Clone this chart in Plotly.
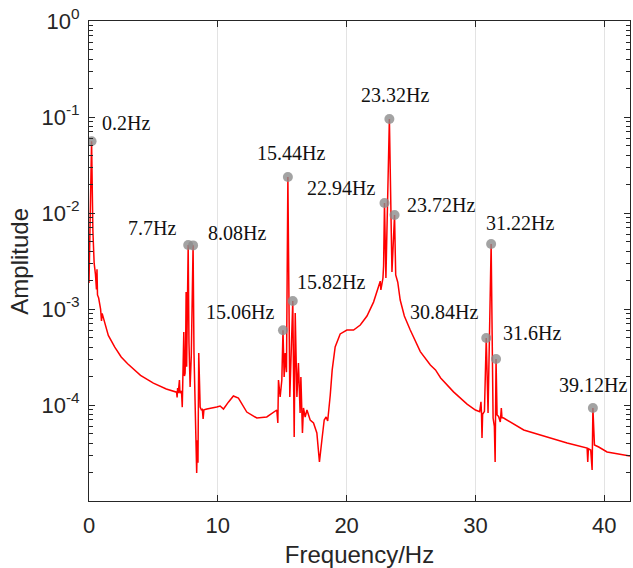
import numpy as np
import plotly.graph_objects as go

# ---- spectrum data ----
freq = [0.0, 0.2, 0.3, 0.4, 0.5, 0.58, 0.62, 0.66, 0.75, 0.9, 0.97, 1.02, 1.5, 2.0, 2.5, 3.0, 4.0, 5.0, 6.0,
        6.8, 6.84, 6.88, 6.93, 7.02, 7.06, 7.18, 7.24, 7.29, 7.36, 7.41, 7.46, 7.50, 7.54, 7.58, 7.64, 7.70,
        7.76, 7.85, 7.94, 8.08, 8.15, 8.22, 8.30, 8.36, 8.41, 8.46, 8.52, 8.57, 8.63, 8.72, 8.80, 8.86, 8.92,
        9.15, 9.6, 9.92, 10.18, 10.44, 10.82, 11.21, 11.6, 12.25, 13.03, 13.8, 14.58,
        14.66, 14.71, 14.84, 14.97, 15.06, 15.15, 15.23, 15.33, 15.44, 15.59, 15.72, 15.82, 15.93, 16.01,
        16.14, 16.26, 16.39, 16.45, 16.57, 16.65, 16.78, 16.92, 17.17, 17.43, 17.69, 17.89, 18.08, 18.26,
        18.41, 18.53, 18.73, 18.88, 19.11, 19.5, 20.02, 20.54, 21.06, 21.58, 22.09, 22.48, 22.61, 22.66,
        22.82, 22.87, 22.94, 23.05, 23.32, 23.52, 23.72, 23.81, 23.9, 23.97, 24.16, 24.32, 24.48, 24.94,
        25.72, 26.5, 26.9, 27.3, 28.3, 29.35, 30.0, 30.33, 30.43, 30.47, 30.51, 30.56, 30.7, 30.84, 30.98,
        31.22, 31.37, 31.47, 31.53, 31.6, 31.68, 31.8, 31.93, 32.01, 32.06, 32.19, 33.75, 35.04, 37.12,
        38.67, 38.72, 38.77, 38.95, 39.06, 39.12, 39.24, 39.4, 39.57, 40.22, 42.0]
amp = [1.87e-3, 5.6e-2, 6.6e-3, 3.0e-3, 2.3e-3, 1.6e-3, 2.6e-3, 1.4e-3, 1.3e-3, 1.0e-3, 7.5e-4, 9.0e-4,
       5.3e-4, 4.0e-4, 3.16e-4, 2.69e-4, 2.04e-4, 1.69e-4, 1.47e-4,
       1.36e-4, 1.2e-4, 1.5e-4, 1.33e-4, 1.82e-4, 1.33e-4, 1.4e-4, 9.5e-5, 1.6e-4, 5.75e-4, 2.0e-4, 2.15e-4,
       3.8e-4, 1.5e-3, 2.5e-4, 1.7e-3, 4.64e-3, 4.5e-4, 1.54e-4, 3.2e-4, 4.6e-3, 3.5e-4, 1.6e-4, 6.0e-5,
       1.96e-5, 4.3e-5, 2.5e-5, 3.48e-4, 1.3e-4, 9.5e-5, 8.9e-5, 9.0e-5, 7.15e-5, 8.9e-5,
       9.08e-5, 9.3e-5, 9.53e-5, 9.77e-5, 9.08e-5, 1.07e-4, 1.24e-4, 1.18e-4, 8.45e-5, 7.32e-5, 7.5e-5, 8.87e-5,
       6.49e-5, 1.82e-4, 1.21e-4, 1.82e-4, 6.0e-4, 1.96e-4, 3.48e-4, 2.2e-4, 2.37e-2, 1.21e-4, 4.5e-4, 1.21e-3,
       4.64e-5, 9.09e-4, 1.21e-4, 2.74e-4, 8.25e-5, 1.96e-4, 5.11e-5, 9.31e-5, 7.5e-5, 8.87e-5, 6.98e-5,
       6.49e-5, 5.11e-5, 2.55e-5, 4.32e-5, 6.98e-5, 7.5e-5, 6.81e-5, 1.27e-4, 2.32e-4, 4.02e-4, 5.5e-4,
       6.04e-4, 6.04e-4, 6.81e-4, 8.45e-4, 1.18e-3, 1.7e-3, 1.95e-3, 1.58e-3, 2.1e-3, 2.8e-3, 1.27e-2,
       2.1e-3, 9.53e-2, 2.43e-3, 9.53e-3, 2.26e-3, 2.1e-3, 1.9e-3, 1.24e-3, 1.0e-3, 8.45e-4, 6.04e-4,
       3.6e-4, 2.61e-4, 2.32e-4, 1.91e-4, 1.37e-4, 1.02e-4, 8.87e-5, 8.5e-5, 1.08e-4, 8.3e-5, 4.53e-5,
       8.0e-5, 8.6e-5, 4.99e-4, 8.25e-5, 4.75e-3, 7.32e-5, 6.0e-5, 2.55e-5, 3.02e-4, 7.87e-5, 7.6e-5,
       6.65e-5, 9.31e-5, 7.4e-5, 7.32e-5, 5.49e-5, 4.87e-5, 4.02e-5, 3.56e-5, 2.55e-5, 3.5e-5, 3.4e-5,
       2.1e-5, 9.3e-5, 3.83e-5, 3.75e-5, 3.65e-5, 3.24e-5, 2.94e-5]

# ---- labelled peaks ----
peak_freq = [0.2, 7.7, 8.08, 15.06, 15.44, 15.82, 22.94, 23.32, 23.72, 30.84, 31.22, 31.6, 39.12]
peak_amp = [5.6e-2, 4.64e-3, 4.6e-3, 6.0e-4, 2.37e-2, 1.21e-3, 1.27e-2, 9.53e-2, 9.53e-3, 4.99e-4,
            4.75e-3, 3.02e-4, 9.3e-5]
peak_labels = ["0.2Hz", "7.7Hz", "8.08Hz", "15.06Hz", "15.44Hz", "15.82Hz", "22.94Hz", "23.32Hz",
               "23.72Hz", "30.84Hz", "31.22Hz", "31.6Hz", "39.12Hz"]

# ---- axis ticks ----
x_ticks = [0, 10, 20, 30, 40]
y_ticks = [1e-4, 1e-3, 1e-2, 1e-1, 1]
y_ticktext = ["10<sup>-4</sup>", "10<sup>-3</sup>", "10<sup>-2</sup>", "10<sup>-1</sup>", "10<sup>0</sup>"]
y_minor = [m * 10.0 ** e for e in range(-5, 0) for m in range(2, 10)]

# label offsets in pixels (layout)
label_shift = [(34, 18), (-36, 17), (44, 12), (-43, 18), (3, 24), (38, 19), (-43, 15), (6, 24),
               (46, 10), (-42, 26), (29, 21), (36, 26), (0, 23)]

fig = go.Figure()
fig.add_trace(go.Scatter(x=freq, y=amp, mode="lines",
                         line=dict(color="#ff0000", width=1.5), hoverinfo="skip"))
fig.add_trace(go.Scatter(x=peak_freq, y=peak_amp, mode="markers",
                         marker=dict(color="rgba(140,140,140,0.8)", size=10, line=dict(width=0))))

for f, a, t, (dx, dy) in zip(peak_freq, peak_amp, peak_labels, label_shift):
    fig.add_annotation(x=f, y=np.log10(a), xref="x", yref="y", text=t, showarrow=False,
                       xshift=dx, yshift=dy,
                       font=dict(family="Liberation Serif, Times New Roman, serif", size=20, color="#111111"))

# y-axis title placed as a rotated paper-referenced label
fig.add_annotation(text="Amplitude", xref="paper", yref="paper", x=-0.13, y=0.5,
                   xanchor="center", yanchor="middle", textangle=-90, showarrow=False,
                   font=dict(family="Liberation Sans, Arial, sans-serif", size=24, color="#262626"))

axis_common = dict(showline=True, linecolor="#262626", linewidth=1, mirror="ticks",
                   ticks="inside", ticklen=6, tickcolor="#262626", tickwidth=1,
                   zeroline=False, tickfont=dict(size=22, color="#262626"))

fig.update_xaxes(range=[0, 42], tickmode="array", tickvals=x_ticks, showgrid=True,
                 gridcolor="#e3e3e3", gridwidth=1, ticklabelstandoff=5,
                 title=dict(text="Frequency/Hz", font=dict(size=24, color="#262626"), standoff=12),
                 **axis_common)
fig.update_yaxes(type="log", range=[-5, 0], tickmode="array", tickvals=y_ticks, ticktext=y_ticktext,
                 showgrid=False, ticklabelstandoff=4,
                 minor=dict(tickmode="array", tickvals=y_minor, ticks="inside", ticklen=4,
                            tickcolor="#262626", showgrid=False),
                 **axis_common)

fig.update_layout(width=633, height=568, margin=dict(l=89, r=3, t=21, b=67, autoexpand=False),
                  plot_bgcolor="white", paper_bgcolor="white", showlegend=False,
                  font=dict(family="Liberation Sans, Arial, sans-serif", color="#262626"))

fig.write_html("out.html")
